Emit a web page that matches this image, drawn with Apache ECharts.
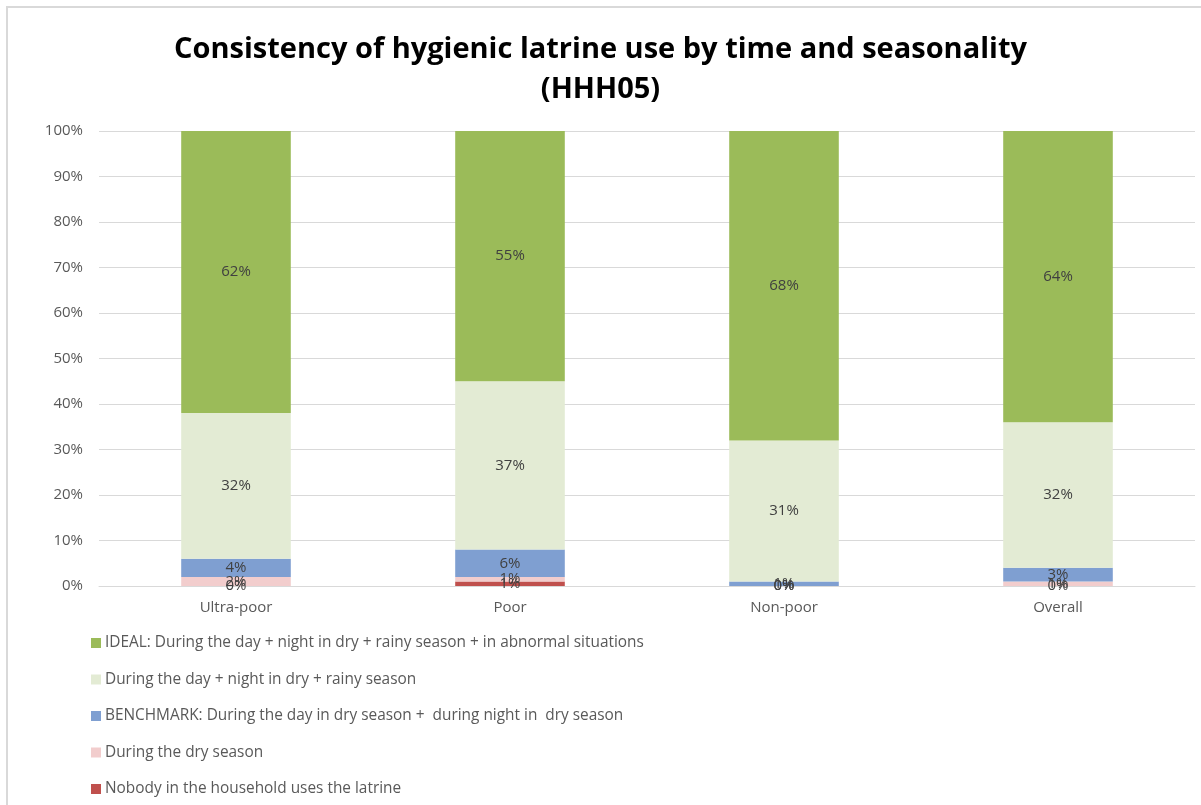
<!DOCTYPE html>
<html>
<head>
<meta charset="utf-8">
<script src="https://cdn.jsdelivr.net/npm/echarts@6/dist/echarts.min.js"></script>
<style>
  html, body { margin: 0; padding: 0; background: #fff; }
  #chart { width: 1201px; height: 805px; }
</style>
</head>
<body>
<div id="chart"></div>
<script>
// Household groups on the x axis
const categories = ['Ultra-poor', 'Poor', 'Non-poor', 'Overall'];

// Shares (%) per group, stacked bottom to top
const nobodyUses   = [0, 1, 0, 0];
const drySeason    = [2, 1, 0, 1];
const benchmark    = [4, 6, 1, 3];
const dayNightDryRainy = [32, 37, 31, 32];
const ideal        = [62, 55, 68, 64];

const seriesNames = [
  'Nobody in the household uses the latrine',
  'During the dry season',
  'BENCHMARK: During the day in dry season +  during night in  dry season',
  'During the day + night in dry + rainy season',
  'IDEAL: During the day + night in dry + rainy season + in abnormal situations'
];
const seriesValues = [nobodyUses, drySeason, benchmark, dayNightDryRainy, ideal];
const seriesColors = ['#c0504d', '#f2cdcd', '#7f9fd1', '#e3ebd4', '#9bbb59'];

const yTicks = [0, 10, 20, 30, 40, 50, 60, 70, 80, 90, 100];

const font = '"Open Sans", "Noto Sans", sans-serif';

const chart = echarts.init(document.getElementById('chart'), null, { renderer: 'canvas' });

chart.setOption({
  backgroundColor: '#ffffff',
  animation: false,
  title: {
    text: 'Consistency of hygienic latrine use by time and seasonality\n(HHH05)',
    left: 'center',
    top: 25,
    textStyle: {
      fontFamily: font,
      fontWeight: 'bold',
      fontSize: 29,
      lineHeight: 40,
      color: '#000000'
    }
  },
  graphic: [{
    type: 'rect',
    shape: { x: 7, y: 7, width: 1250, height: 850 },
    style: { fill: 'none', stroke: '#d9d9d9', lineWidth: 2 },
    silent: true,
    z: -1
  }],
  grid: { left: 99, right: 6, top: 131, bottom: 219, containLabel: false },
  xAxis: {
    type: 'category',
    data: categories,
    axisLine: { show: true, lineStyle: { color: '#d9d9d9', width: 1 } },
    axisTick: { show: false },
    axisLabel: { color: '#595959', fontFamily: font, fontSize: 15, margin: 14 }
  },
  yAxis: {
    type: 'value',
    min: yTicks[0],
    max: yTicks[yTicks.length - 1],
    interval: 10,
    axisLine: { show: false },
    axisTick: { show: false },
    splitLine: { lineStyle: { color: '#d9d9d9', width: 1 } },
    axisLabel: {
      color: '#595959', fontFamily: font, fontSize: 15, margin: 16,
      formatter: v => v + '%'
    }
  },
  legend: {
    orient: 'vertical',
    left: 86,
    top: 630,
    itemWidth: 10,
    itemHeight: 10,
    itemGap: 20.5,
    icon: 'rect',
    data: seriesNames.slice().reverse(),
    textStyle: { color: '#595959', fontFamily: font, fontSize: 15.4, lineHeight: 16, padding: [0, 0, 0, -1] }
  },
  series: seriesNames.map((name, i) => ({
    name,
    type: 'bar',
    stack: 'total',
    barWidth: '40%',
    data: seriesValues[i],
    itemStyle: { color: seriesColors[i] },
    label: {
      show: true,
      position: 'inside',
      color: '#404040',
      fontFamily: font,
      fontSize: 15,
      formatter: p => p.value + '%'
    }
  }))
});
</script>
</body>
</html>
